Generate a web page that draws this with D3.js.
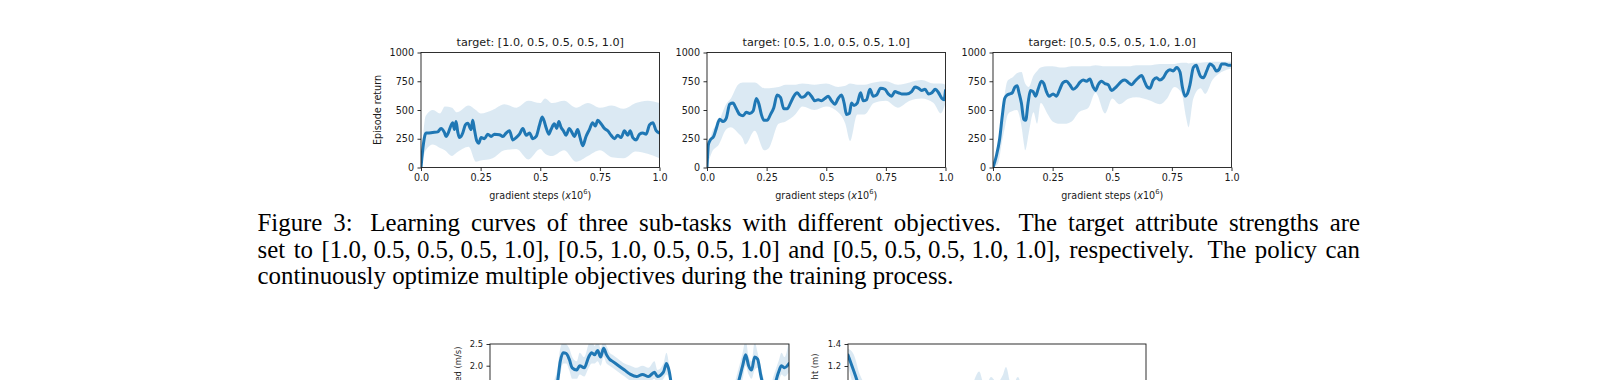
<!DOCTYPE html>
<html><head><meta charset="utf-8">
<script src="https://cdn.jsdelivr.net/npm/d3@7"></script>
<style>html,body{margin:0;padding:0;background:#fff;overflow:hidden}</style>
</head><body><svg id="c" width="1618" height="380"></svg>
<script>
// ---------- data ----------
const titles = ["target: [1.0, 0.5, 0.5, 0.5, 1.0]", "target: [0.5, 1.0, 0.5, 0.5, 1.0]", "target: [0.5, 0.5, 0.5, 1.0, 1.0]"];
const xTickVals = [0, 0.25, 0.5, 0.75, 1.0];
const xTickLabels = ["0.0", "0.25", "0.5", "0.75", "1.0"];
const yTickVals = [0, 250, 500, 750, 1000];

const c1x = [0,0.007,0.021,0.028,0.049,0.070,0.084,0.098,0.105,0.112,0.133,0.140,0.147,0.154,0.161,0.168,0.175,0.186,0.196,0.210,0.217,0.224,0.234,0.242,0.252,0.266,0.280,0.294,0.308,0.329,0.343,0.357,0.371,0.385,0.399,0.413,0.427,0.441,0.455,0.469,0.483,0.497,0.508,0.517,0.524,0.536,0.545,0.559,0.569,0.578,0.587,0.597,0.608,0.622,0.634,0.643,0.657,0.667,0.678,0.692,0.706,0.720,0.731,0.741,0.755,0.769,0.783,0.797,0.811,0.825,0.839,0.853,0.867,0.877,0.888,0.902,0.916,0.930,0.944,0.958,0.972,0.986,1.000];
const c1m = [0,150,300,300,305,310,340,305,270,290,390,330,400,310,260,270,300,370,385,330,410,330,230,210,260,250,290,270,290,285,270,300,320,240,260,290,340,280,300,250,270,370,440,400,350,290,330,380,340,400,350,320,280,340,300,270,330,260,190,270,330,390,360,410,380,340,320,280,250,280,260,320,280,320,260,240,290,300,290,370,390,320,300];
const b1x = [0,0.02,0.05,0.08,0.1,0.13,0.15,0.2,0.23,0.25,0.3,0.35,0.4,0.45,0.5,0.52,0.55,0.6,0.65,0.7,0.75,0.8,0.85,0.9,0.95,1.0];
const b1hi = [0,450,500,470,530,520,480,540,500,470,500,550,520,580,560,600,560,580,520,560,520,540,510,560,580,560];
const b1lo = [0,150,200,170,150,100,130,180,50,60,80,150,160,70,160,120,100,150,50,100,150,90,80,140,120,80];

const c2x = [0,.006,.014,.028,.039,.053,.067,.081,.095,.109,.123,.137,.151,.165,.179,.193,.207,.218,.228,.239,.252,.266,.280,.294,.308,.322,.336,.350,.364,.378,.396,.410,.424,.438,.452,.466,.480,.494,.508,.522,.536,.550,.564,.575,.585,.597,.606,.616,.630,.644,.655,.669,.683,.697,.711,.728,.746,.760,.774,.788,.802,.816,.837,.858,.872,.886,.900,.914,.929,.943,.957,.971,.985,.994,1.0];
const c2m = [0,200,240,270,340,420,400,430,550,560,510,460,450,480,470,490,600,550,460,410,410,460,520,630,610,510,510,560,620,650,610,620,650,620,580,590,580,600,620,580,550,600,630,560,460,470,560,540,560,650,580,590,680,620,630,690,680,640,620,660,650,640,640,660,700,690,670,680,640,650,680,650,600,590,670];
const b2x = [0,0.02,0.05,0.08,0.1,0.13,0.15,0.16,0.2,0.24,0.26,0.3,0.33,0.37,0.4,0.45,0.5,0.55,0.58,0.6,0.63,0.66,0.7,0.75,0.8,0.85,0.9,0.95,0.98,1.0];
const b2hi = [0,300,400,550,600,720,740,740,740,690,690,700,720,720,730,720,730,700,710,730,720,720,740,750,720,740,760,730,730,720];
const b2lo = [0,130,200,330,350,300,250,200,320,150,170,380,400,460,530,500,530,480,380,230,460,460,560,580,520,580,600,560,470,560];

const c3x = [0,.014,.028,.039,.049,.059,.070,.081,.092,.101,.109,.119,.129,.137,.147,.157,.168,.179,.189,.203,.213,.224,.235,.252,.266,.280,.294,.308,.322,.336,.350,.364,.378,.392,.406,.420,.430,.441,.455,.469,.483,.497,.511,.525,.539,.553,.567,.581,.595,.609,.623,.637,.647,.658,.672,.686,.700,.714,.728,.742,.756,.770,.784,.794,.805,.815,.826,.840,.852,.861,.871,.882,.896,.910,.924,.936,.947,.959,.973,.987,1.0];
const c3m = [0,100,250,450,600,630,640,650,700,710,650,560,420,410,560,670,660,620,680,750,730,660,620,640,620,680,740,750,720,680,700,740,760,750,770,700,670,720,750,730,720,670,690,720,750,760,740,720,750,780,800,740,700,690,760,780,760,780,830,850,840,870,830,700,620,640,720,870,890,840,790,780,840,900,880,840,850,900,900,890,890];
const b3x = [0,0.02,0.04,0.05,0.06,0.07,0.08,0.1,0.12,0.13,0.135,0.15,0.17,0.185,0.2,0.23,0.25,0.28,0.3,0.33,0.36,0.4,0.43,0.47,0.5,0.53,0.57,0.6,0.63,0.66,0.7,0.73,0.76,0.79,0.81,0.82,0.84,0.87,0.89,0.92,0.95,0.98,1.0];
const b3hi = [0,150,500,650,750,770,780,820,830,760,730,700,800,840,870,880,880,870,870,880,880,880,890,880,880,880,880,890,890,890,900,900,900,910,910,905,910,910,915,920,920,920,920];
const b3lo = [0,30,250,350,450,480,490,500,350,200,150,300,480,380,560,460,400,380,380,400,480,520,650,470,600,550,600,610,600,580,550,600,700,650,430,350,600,690,640,760,820,850,860];

// lower row (only its top part is visible)
const c4x = [0,.1,.2,.225,.235,.245,.255,.265,.275,.29,.3,.315,.33,.34,.35,.36,.37,.38,.39,.4,.41,.43,.45,.47,.49,.51,.53,.55,.56,.58,.59,.6,.61,.63,.8,.83,.845,.855,.865,.875,.885,.895,.905,.915,.93,.95,.965,.975,.985,1.0];
const c4m = [0.6,0.8,1.2,1.6,2.1,2.3,2.28,2.15,1.95,1.9,2.0,1.95,2.2,2.3,2.25,2.35,2.2,2.4,2.25,2.15,2.1,2.0,1.9,1.8,1.75,1.8,1.75,1.85,1.75,1.85,2.05,1.85,1.4,1.0,1.0,1.6,2.0,2.25,2.0,1.9,2.2,2.15,1.8,1.5,1.2,1.5,1.85,2.0,1.95,2.05];
const c4hi = [0.8,1.0,1.5,1.9,2.4,2.55,2.5,2.4,2.2,2.1,2.3,2.2,2.5,2.6,2.45,2.6,2.4,2.6,2.45,2.3,2.25,2.15,2.05,2.0,1.95,2.0,1.95,2.1,1.9,2.05,2.3,2.0,1.6,1.2,1.3,1.9,2.3,2.6,2.2,2.1,2.55,2.3,2.0,1.7,1.4,1.8,2.1,2.3,2.2,2.6];
const c4lo = [0.4,0.6,1.0,1.3,1.8,2.05,2.05,1.9,1.7,1.7,1.8,1.75,1.95,2.05,2.05,2.1,2.0,2.2,2.05,2.0,1.95,1.85,1.75,1.65,1.6,1.65,1.6,1.7,1.6,1.7,1.8,1.7,1.2,0.8,0.8,1.3,1.7,2.0,1.8,1.7,1.9,1.95,1.6,1.3,1.0,1.2,1.6,1.8,1.75,1.85];
const c4yTicks = [2.0, 2.5];

const c5x = [0,.02,.04,.07,.1,.2,.3,.4,.42,.44,.46,.48,.5,.52,.53,.55,.57,.59,.62,.7,.8,.9,1.0];
const c5m = [1.3,1.15,1.0,0.9,0.85,0.8,0.8,0.82,0.85,0.9,0.85,0.88,0.9,0.88,0.92,0.86,0.88,0.82,0.8,0.8,0.78,0.8,0.8];
const c5hi = [1.36,1.3,1.12,1.0,0.95,0.9,0.9,0.95,1.05,1.15,1.0,1.1,1.05,1.12,1.19,1.0,1.1,0.95,0.9,0.9,0.88,0.9,0.9];
const c5lo = [1.2,1.0,0.85,0.8,0.75,0.7,0.7,0.7,0.7,0.75,0.7,0.72,0.75,0.7,0.75,0.7,0.72,0.7,0.68,0.7,0.68,0.7,0.7];
const c5yTicks = [1.2, 1.4];

const captionLines = [
  ["Figure","3:","Learning","curves","of","three","sub-tasks","with","different","objectives.","The","target","attribute","strengths","are"],
  ["set","to","[1.0, 0.5, 0.5, 0.5, 1.0],","[0.5, 1.0, 0.5, 0.5, 1.0]","and","[0.5, 0.5, 0.5, 1.0, 1.0],","respectively.","The","policy","can"],
  ["continuously","optimize","multiple","objectives","during","the","training","process."]
];

// ---------- drawing ----------
const svg = d3.select('#c');
const BLUE = '#1f77b4', BAND = 'rgba(31,119,180,0.16)', INK = '#1a1a1a';
const SANS = "'DejaVu Sans', sans-serif";
let clipN = 0;

function panel(o) {
  const x = d3.scaleLinear().domain(o.xDomain).range([o.left, o.left + o.width]);
  const y = d3.scaleLinear().domain(o.yDomain).range([o.top + o.height, o.top]);
  const g = svg.append('g');
  const cid = 'clip' + (clipN++);
  g.append('clipPath').attr('id', cid).append('rect')
    .attr('x', o.left).attr('y', o.top).attr('width', o.width).attr('height', o.height);
  const plot = g.append('g').attr('clip-path', `url(#${cid})`);
  const area = d3.area().x((d, i) => x(o.bx[i])).y0((d, i) => y(o.lo[i])).y1((d, i) => y(o.hi[i])).curve(d3.curveMonotoneX);
  plot.append('path').datum(o.bx).attr('d', area).attr('fill', BAND);
  const line = d3.line().x((d, i) => x(o.xs[i])).y((d, i) => y(o.mean[i])).curve(d3.curveMonotoneX);
  plot.append('path').datum(o.xs).attr('d', line).attr('fill', 'none').attr('stroke', BLUE)
    .attr('stroke-width', 3).attr('stroke-linejoin', 'round').attr('stroke-linecap', 'round');

  const yAxis = d3.axisLeft(y).tickValues(o.yTicks).tickFormat(o.yFmt).tickSize(3.5).tickPadding(3.5);
  const ya = g.append('g').attr('transform', `translate(${o.left},0)`).call(yAxis);
  ya.select('.domain').remove();
  ya.selectAll('text').attr('font-family', SANS).attr('font-size', o.fs).attr('fill', INK);
  ya.selectAll('line').attr('stroke', INK).attr('stroke-width', 0.9);
  if (o.xTicks) {
    const xAxis = d3.axisBottom(x).tickValues(o.xTicks).tickFormat((d, i) => o.xLabels[i]).tickSize(3.5).tickPadding(3.5);
    const xa = g.append('g').attr('transform', `translate(0,${o.top + o.height})`).call(xAxis);
    xa.select('.domain').remove();
    xa.selectAll('text').attr('font-family', SANS).attr('font-size', o.fs).attr('fill', INK);
    xa.selectAll('line').attr('stroke', INK).attr('stroke-width', 0.9);
  }
  g.append('rect').attr('x', o.left).attr('y', o.top).attr('width', o.width).attr('height', o.height)
    .attr('fill', 'none').attr('stroke', INK).attr('stroke-width', 0.9);

  if (o.title) {
    g.append('text').attr('x', o.left + o.width / 2).attr('y', o.top - 6.5).attr('text-anchor', 'middle')
      .attr('font-family', SANS).attr('font-size', o.titleFs).attr('fill', INK).text(o.title);
  }
  if (o.xlabel) {
    const t = g.append('text').attr('x', o.left + o.width / 2).attr('y', o.top + o.height + 31)
      .attr('text-anchor', 'middle').attr('font-family', SANS).attr('font-size', o.fs).attr('fill', INK);
    t.append('tspan').text('gradient steps (');
    t.append('tspan').attr('font-style', 'italic').text('x');
    t.append('tspan').text('10');
    t.append('tspan').attr('font-size', o.fs * 0.7).attr('dy', -o.fs * 0.42).text('6');
    t.append('tspan').attr('dy', o.fs * 0.42).text(')');
  }
  if (o.ylabel) {
    g.append('text').attr('transform', `translate(${o.ylabelX},${o.ylabelY}) rotate(-90)`)
      .attr('text-anchor', 'middle').attr('dy', '0.35em').attr('font-family', SANS).attr('font-size', o.fs)
      .attr('fill', INK).text(o.ylabel);
  }
}

const topPanels = [
  {left: 421, xs: c1x, mean: c1m, bx: b1x, lo: b1lo, hi: b1hi},
  {left: 707, xs: c2x, mean: c2m, bx: b2x, lo: b2lo, hi: b2hi},
  {left: 993, xs: c3x, mean: c3m, bx: b3x, lo: b3lo, hi: b3hi}
];
topPanels.forEach((p, i) => panel(Object.assign({
  top: 52.5, width: 238.5, height: 115, xDomain: [0, 1], yDomain: [0, 1000],
  yTicks: yTickVals, yFmt: d3.format('d'), xTicks: xTickVals, xLabels: xTickLabels,
  fs: 9.6, titleFs: 11.2, title: titles[i], xlabel: true,
  ylabel: i === 0 ? 'Episode return' : null, ylabelX: 378, ylabelY: 110
}, p)));

panel({left: 490, top: 344, width: 299, height: 108.5, xDomain: [0, 1], yDomain: [0, 2.5],
  xs: c4x, mean: c4m, bx: c4x, lo: c4lo, hi: c4hi, yTicks: c4yTicks, yFmt: d3.format('.1f'),
  fs: 8.4, ylabel: 'Speed (m/s)', ylabelX: 458, ylabelY: 372});
panel({left: 848, top: 344, width: 298, height: 110, xDomain: [0, 1], yDomain: [0.4, 1.4],
  xs: c5x, mean: c5m, bx: c5x, lo: c5lo, hi: c5hi, yTicks: c5yTicks, yFmt: d3.format('.1f'),
  fs: 8.4, ylabel: 'Height (m)', ylabelX: 815, ylabelY: 376});

// caption (justified like the paper)
const SERIF = "'Liberation Serif', 'Times New Roman', serif";
const cap = svg.append('g').attr('font-family', SERIF).attr('fill', '#000');
const probe = cap.append('text').attr('font-size', 20).text(captionLines[2].join(' '));
const fsCap = 20 * 696 / probe.node().getComputedTextLength();
probe.remove();
const capX0 = 257.5, capX1 = 1360, capY = [230.5, 257.5, 284];
captionLines.forEach((words, li) => {
  const nodes = words.map(w => cap.append('text').attr('y', capY[li]).attr('font-size', fsCap).text(w));
  const widths = nodes.map(n => n.node().getComputedTextLength());
  const weights = words.slice(0, -1).map(w => /[.:]$/.test(w) && li < 2 ? 1.6 : 1);
  const justify = li < 2;
  const unit = justify ? (capX1 - capX0 - d3.sum(widths)) / d3.sum(weights) : fsCap * 0.25;
  let xx = capX0;
  nodes.forEach((n, i) => { n.attr('x', xx); xx += widths[i] + (i < weights.length ? unit * weights[i] : 0); });
});
</script></body></html>
